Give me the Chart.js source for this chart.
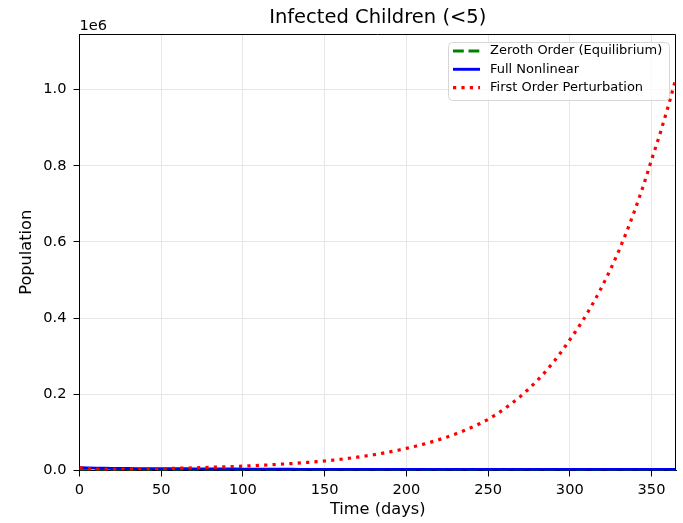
<!DOCTYPE html>
<html>
<head>
<meta charset="utf-8">
<script src="https://cdn.jsdelivr.net/npm/chart.js@4/dist/chart.umd.min.js"></script>
<style>
html,body{margin:0;padding:0;background:#fff;}
canvas{display:block;}
</style>
</head>
<body>
<canvas id="c" width="683" height="523"></canvas>
<script>
// ---- data ----
const days = [0,5,10,15,20,25,30,35,40,45,50,55,60,65,70,75,80,85,90,95,100,105,110,115,120,125,130,135,140,145,150,155,160,165,170,175,180,185,190,195,200,205,210,215,220,225,230,235,240,245,250,255,260,265,270,275,280,285,290,295,300,305,310,315,320,325,330,335,340,345,350,355,360,365];
const zerothOrder = [2500,2500,2500,2500,2500,2500,2500,2500,2500,2500,2500,2500,2500,2500,2500,2500,2500,2500,2500,2500,2500,2500,2500,2500,2500,2500,2500,2500,2500,2500,2500,2500,2500,2500,2500,2500,2500,2500,2500,2500,2500,2500,2500,2500,2500,2500,2500,2500,2500,2500,2500,2500,2500,2500,2500,2500,2500,2500,2500,2500,2500,2500,2500,2500,2500,2500,2500,2500,2500,2500,2500,2500,2500,2500];
const fullNonlinear = [7500,6800,6300,5900,5600,5400,5200,5000,4900,4800,4700,4600,4500,4400,4300,4200,4100,4000,3900,3800,3700,3600,3500,3400,3300,3200,3100,3000,3000,2900,2900,2800,2800,2800,2800,2700,2700,2700,2700,2700,2700,2700,2700,2700,2600,2600,2600,2600,2600,2600,2600,2600,2600,2600,2600,2600,2600,2600,2600,2600,2600,2600,2600,2600,2600,2600,2600,2600,2600,2600,2600,2600,2600,2600];
const firstOrder = [7500,4500,3400,3100,3100,3300,3500,3800,4100,4500,5000,5400,5900,6400,7000,7600,8300,9000,9700,10600,11500,12400,13400,14500,15700,17000,18300,19800,21400,23100,25000,27200,29600,32200,35000,38000,41400,45000,49000,53300,58000,63100,68600,74600,81100,88200,95900,104200,113300,123200,134000,147200,161700,177700,195200,214500,235600,258800,284400,312400,343000,374000,407800,444700,484900,528700,576500,628600,685400,747400,815000,881000,952500,1030000];
const seriesNames = ["Zeroth Order (Equilibrium)","Full Nonlinear","First Order Perturbation"];
const chartTitle = "Infected Children (<5)";
const xTicks = [0,50,100,150,200,250,300,350];
const yTicks = [0,200000,400000,600000,800000,1000000];

const FONT = "'DejaVu Sans', sans-serif";
const pts = arr => days.map((d,i)=>({x:d,y:arr[i]}));

const styles = [
  {color:'#008000', dash:[10.8,4.7]},
  {color:'#0000ff', dash:[]},
  {color:'#ff0000', dash:[3.2,5.2]}
];

const framePlugin = {
  id:'frame',
  afterDraw(chart){
    const {ctx, chartArea:a} = chart;
    ctx.save();
    // top and right spines
    ctx.strokeStyle = '#000';
    ctx.lineWidth = 1;
    const t = Math.round(a.top) + 0.5, r0 = Math.round(a.right) - 0.5;
    ctx.beginPath();
    ctx.moveTo(a.left, t);
    ctx.lineTo(r0, t);
    ctx.lineTo(r0, a.bottom);
    ctx.stroke();
    // title, centred over the plot area
    ctx.fillStyle = '#000';
    ctx.font = "19.5px " + FONT;
    ctx.textAlign = 'center';
    ctx.textBaseline = 'middle';
    ctx.fillText(chartTitle, (a.left + a.right) / 2, 18);
    // offset text
    ctx.font = "14.6px " + FONT;
    ctx.textAlign = 'left';
    ctx.textBaseline = 'alphabetic';
    ctx.fillText('1e6', a.left, a.top - 4);
    // legend
    const bx = 448.5, by = 42.5, bw = 221, bh = 58, r = 4;
    ctx.globalAlpha = 0.8;
    ctx.fillStyle = '#fff';
    ctx.beginPath();
    ctx.roundRect(bx, by, bw, bh, r);
    ctx.fill();
    ctx.globalAlpha = 1;
    ctx.strokeStyle = '#d6d6d6';
    ctx.lineWidth = 1;
    ctx.stroke();
    ctx.font = "13px " + FONT;
    ctx.textBaseline = 'middle';
    const rows = [51, 69.3, 87.7];
    seriesNames.forEach((name,i)=>{
      ctx.strokeStyle = styles[i].color;
      ctx.lineWidth = i === 2 ? 3.2 : 2.9;
      ctx.setLineDash(styles[i].dash);
      ctx.lineCap = 'butt';
      ctx.beginPath();
      ctx.moveTo(453, rows[i]);
      ctx.lineTo(480, rows[i]);
      ctx.stroke();
      ctx.setLineDash([]);
      ctx.fillStyle = '#000';
      ctx.fillText(name, 490, rows[i]);
    });
    ctx.restore();
  }
};

new Chart(document.getElementById('c'), {
  type:'line',
  data:{
    datasets:[
      {label:seriesNames[0], data:pts(zerothOrder), borderColor:styles[0].color, borderDash:styles[0].dash, borderWidth:2.9, pointRadius:0, tension:0, order:3},
      {label:seriesNames[1], data:pts(fullNonlinear), borderColor:styles[1].color, borderWidth:2.9, pointRadius:0, tension:0, order:2},
      {label:seriesNames[2], data:pts(firstOrder), borderColor:styles[2].color, borderDash:styles[2].dash, borderWidth:3.2, pointRadius:0, tension:0, order:1}
    ]
  },
  options:{
    responsive:false,
    animation:false,
    devicePixelRatio:1,
    layout:{padding:{left:0,right:7,top:34,bottom:0}},
    plugins:{
      legend:{display:false},
      tooltip:{enabled:false},
      title:{display:false}
    },
    scales:{
      x:{
        type:'linear', min:0, max:365,
        afterFit(s){ s.height = 52.5; },
        afterBuildTicks(s){ s.ticks = xTicks.map(v=>({value:v})); },
        ticks:{color:'#000', font:{family:FONT,size:14.6}, padding:5, maxRotation:0, callback:v=>String(v)},
        grid:{color:'#e6e6e6', lineWidth:1, tickColor:'#000', tickLength:6, drawTicks:true},
        border:{display:true, color:'#000', width:1},
        title:{display:true, text:'Time (days)', color:'#000', font:{family:FONT,size:16.2}, padding:{top:0,bottom:3}}
      },
      y:{
        type:'linear', min:0, max:1146000,
        afterFit(s){ s.width = 79.5; },
        afterBuildTicks(s){ s.ticks = yTicks.map(v=>({value:v})); },
        ticks:{color:'#000', font:{family:FONT,size:14.6}, padding:7, callback:v=>(v/1e6).toFixed(1)},
        grid:{color:'#e6e6e6', lineWidth:1, tickColor:'#000', tickLength:6, drawTicks:true},
        border:{display:true, color:'#000', width:1},
        title:{display:true, text:'Population', color:'#000', font:{family:FONT,size:16.2}, padding:{top:17,bottom:0}}
      }
    }
  },
  plugins:[framePlugin]
});
</script>
</body>
</html>
